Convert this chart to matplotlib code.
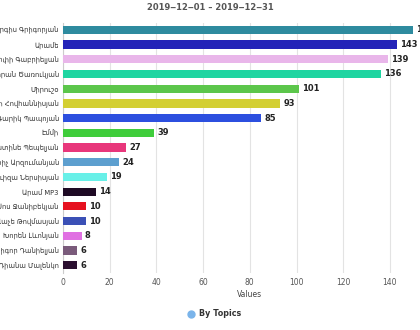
import matplotlib
matplotlib.use('Agg')
import matplotlib.pyplot as plt
import numpy as np

names = ['Սարգիս Գրիգորյան', 'Արամե', 'Արփի Գաբրիելյան', 'Միհրան Ծառուկյան',
         'Միրուշօ', 'Անի Հովհաննիսյան', 'Գարիկ Պապոյան', 'Էմմի',
         'Քրիստինե Պեպելյան', 'Մկրտիչ Արզումանյան', 'Լուիզա Ներսիսյան', 'Արամ MP3',
         'Սոս Ջանիբեկյան', 'Վաչե Թովմասյան', 'Խորեն Լևոնյան', 'Գրիգոր Դանիելյան',
         'Դիանա Մալենկո']
values = [150, 143, 139, 136, 101, 93, 85, 39, 27, 24, 19, 14, 10, 10, 8, 6, 6]
colors = ['#2e8b9f', '#2323b8', '#e9b6ea', '#1fd5a1', '#5cc64b', '#d3cf33',
          '#2c4fdf', '#3fcd3b', '#e8377b', '#5d9fcf', '#68f0e8', '#1e0a24',
          '#e6111f', '#3b50b6', '#e070e2', '#7a5b7b', '#2b0f30']
x_ticks = [0, 20, 40, 60, 80, 100, 120, 140]

plt.rcParams['font.family'] = ['DejaVu Sans']
fig = plt.figure(figsize=(4.2, 3.3), dpi=100)
# axes intentionally runs past the right edge, like the cropped original
ax = fig.add_axes([63/420, 1-272.5/330, 373.6/420, 250/330])

y = np.arange(len(names))
ax.barh(y, values, height=0.56, color=colors, zorder=3)
for yi, v in zip(y, values):
    ax.text(v + 1.3, yi, str(v), va='center', ha='left', fontsize=6,
            fontweight='bold', color='#222222', zorder=4)

ax.set_ylim(len(names) - 0.5, -0.5)
ax.set_xlim(0, 160)
ax.set_yticks(y)
ax.set_yticklabels(names, fontsize=4.9, color='#333333')
ax.set_xticks(x_ticks)
ax.set_xticklabels([str(t) for t in x_ticks], fontsize=5.5, color='#555555')
ax.tick_params(axis='y', length=0, pad=3)
ax.tick_params(axis='x', length=0, pad=4)
ax.grid(axis='x', color='#e3e3e3', linewidth=0.8, zorder=0)
for s in ['top', 'right', 'bottom']:
    ax.spines[s].set_visible(False)
ax.spines['left'].set_color('#cccccc')
ax.spines['left'].set_linewidth(0.8)
ax.set_xlabel('Values', fontsize=5.5, color='#444444', labelpad=2)

fig.text(0.5, 1-8/330, '2019\u201212\u201201 \u2013 2019\u201212\u201231', ha='center', va='center',
         fontsize=6, fontweight='bold', color='#555555')

fig.lines.append(plt.Line2D([191/420], [1-314/330], marker='o', markersize=5,
                            color='#7ab4ea', transform=fig.transFigure, linestyle='none'))
fig.text(199/420, 1-314/330, 'By Topics', ha='left', va='center', fontsize=5.8,
         fontweight='bold', color='#333333')

fig.savefig('out.png', dpi=100)
